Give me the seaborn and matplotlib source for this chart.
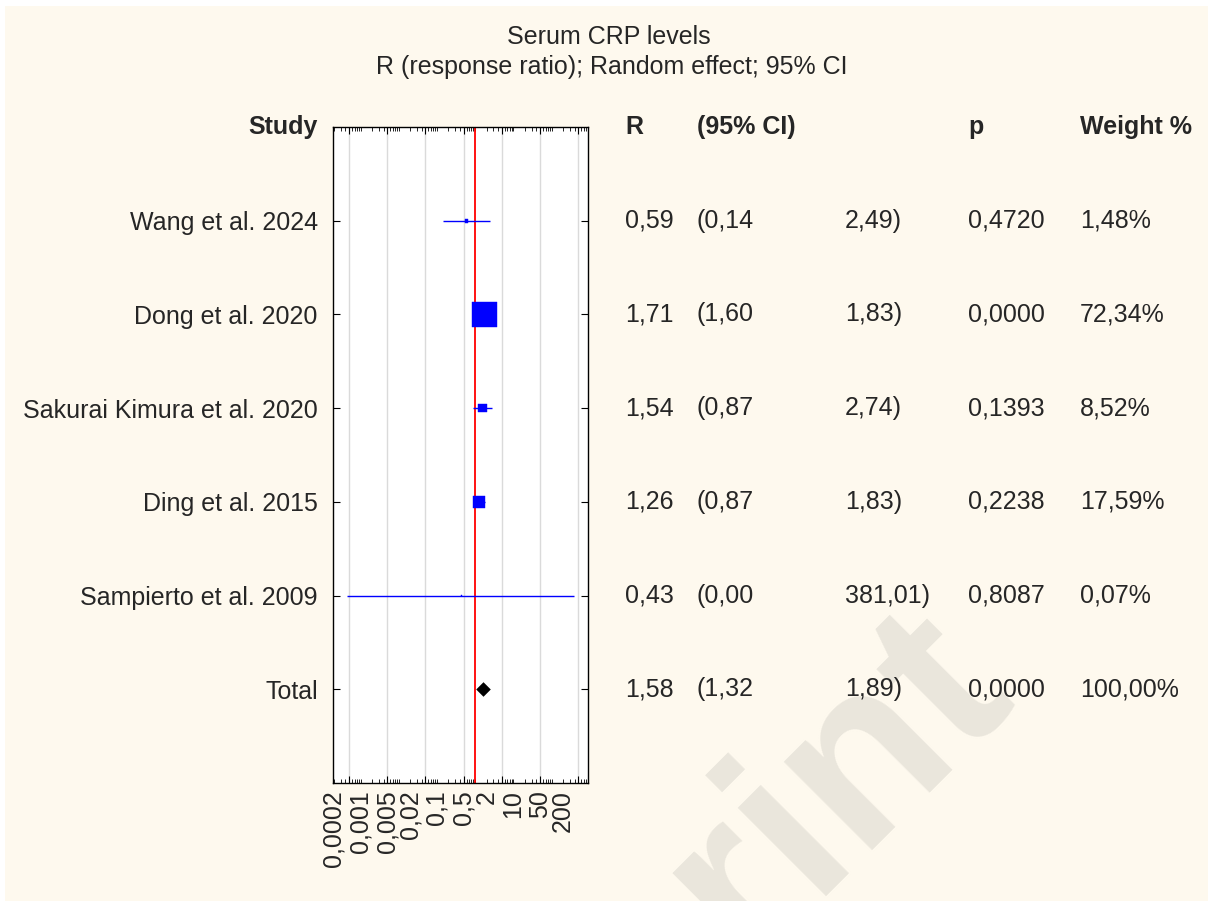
import numpy as np
import pandas as pd
import matplotlib
matplotlib.use("Agg")
import matplotlib.pyplot as plt
from matplotlib.patches import Rectangle
from matplotlib.ticker import LogLocator, NullFormatter, NullLocator
from matplotlib.transforms import blended_transform_factory
import seaborn as sns

# ---- data -------------------------------------------------------------
studies = ["Wang et al. 2024", "Dong et al. 2020", "Sakurai Kimura et al. 2020",
           "Ding et al. 2015", "Sampierto et al. 2009"]
ratio = [0.59, 1.71, 1.54, 1.26, 0.43]
ci_low = [0.14, 1.60, 0.87, 0.87, 0.00045]
ci_high = [2.49, 1.83, 2.74, 1.83, 381.01]
p_values = [0.4720, 0.0000, 0.1393, 0.2238, 0.8087]
weights = [1.48, 72.34, 8.52, 17.59, 0.07]

total_label = "Total"
total_ratio = 1.58
total_low = 1.32
total_high = 1.89
total_p = 0.0000
total_weight = 100.00

axis_tick_values = [0.0002, 0.001, 0.005, 0.02, 0.1, 0.5, 2, 10, 50, 200]
axis_tick_labels = ["0,0002", "0,001", "0,005", "0,02", "0,1", "0,5", "2", "10", "50", "200"]

title_lines = ["Serum CRP levels", "R (response ratio); Random effect; 95% CI"]
headers = ["R", "(95% CI)", "p", "Weight %"]

# ---- style ------------------------------------------------------------
sns.set_theme(style="white")
plt.rcParams["font.family"] = ["Liberation Sans", "DejaVu Sans"]
FS = 18
W, H = 1208, 901


def fx(px):
    return px / W


def fy(py):
    return 1 - py / H


def comma(v, nd=2):
    return f"{v:.{nd}f}".replace(".", ",")


df = pd.DataFrame({"study": studies, "R": ratio, "lo": ci_low, "hi": ci_high,
                   "p": p_values, "w": weights})
df["row"] = np.arange(1, len(df) + 1)
total_row = len(df) + 1

fig = plt.figure(figsize=(W / 100, H / 100), dpi=100)
fig.patch.set_facecolor("white")
fig.add_artist(Rectangle((fx(5), -0.01), 1.0, fy(6) + 0.01, transform=fig.transFigure,
                         facecolor="#FEF9EE", edgecolor="none", zorder=-10))

ax = fig.add_axes([fx(333), fy(783), fx(588 - 333), (783 - 127) / H])
ax.set_facecolor("white")
ax.set_xscale("log")

# reference line at no effect
ax.axvline(1, color="red", lw=1.3, zorder=2)

# confidence intervals and weighted squares
ax.hlines(df["row"], df["lo"], df["hi"], color="blue", lw=1.0, zorder=3)
k = 4.48
sns.scatterplot(data=df, x="R", y="row", size="w",
                sizes=(k * min(weights), k * max(weights)),
                size_norm=(min(weights), max(weights)),
                marker="s", color="blue", edgecolor="blue", linewidth=0.3,
                legend=False, ax=ax, zorder=4)

# pooled estimate
sns.scatterplot(x=[total_ratio], y=[total_row], marker="D", color="black",
                s=55, linewidth=0, ax=ax, zorder=5, legend=False)

ax.set_xlabel("")
ax.set_ylabel("")
ax.set_xlim(0.00019, 900)
ax.set_ylim(total_row + 1, 0)

# log gridlines and minor ticks
ax.xaxis.set_major_locator(LogLocator(base=10, subs=(5.0,), numticks=40))
ax.xaxis.set_minor_locator(LogLocator(base=10, subs=tuple(range(1, 10)), numticks=40))
ax.xaxis.set_major_formatter(NullFormatter())
ax.xaxis.set_minor_formatter(NullFormatter())
ax.grid(True, axis="x", which="major", color="#DADADA", lw=1, zorder=1)
ax.set_axisbelow(True)
ax.tick_params(axis="x", which="major", direction="in", length=5, width=0.8,
               top=True, bottom=True, color="black")
ax.tick_params(axis="x", which="minor", direction="in", length=3, width=0.6,
               top=True, bottom=True, color="black")

for s in ax.spines.values():
    s.set_color("black")
    s.set_linewidth(1.0)

# study labels
ax.set_yticks(list(df["row"]) + [total_row], labels=studies + [total_label])
ax.tick_params(axis="y", direction="in", length=5, width=0.8, left=True, right=True,
               pad=11, labelsize=FS, color="black")

# axis value labels
sec = ax.secondary_xaxis("bottom")
sec.set_xticks(axis_tick_values, labels=axis_tick_labels)
sec.tick_params(axis="x", length=0, pad=5, labelsize=FS, rotation=90)
sec.xaxis.set_minor_locator(NullLocator())
sec.spines["bottom"].set_visible(False)

# title
fig.text(fx(609), fy(37), title_lines[0], ha="center", va="center", fontsize=FS)
fig.text(fx(612), fy(67), title_lines[1], ha="center", va="center", fontsize=FS)

# table of results
tr = blended_transform_factory(fig.transFigure, ax.transData)
ax.text(fx(318), 0, "Study", transform=tr, ha="right", va="center", fontsize=FS,
        fontweight="bold", clip_on=False)

col_x = [fx(625), fx(697), fx(968), fx(1080)]
for x, h in zip(col_x, headers):
    ax.text(x, 0, h, transform=tr, ha="left", va="center", fontsize=FS,
            fontweight="bold", clip_on=False)

rows = [(r.row, r.R, r.lo, r.hi, r.p, r.w) for r in df.itertuples()]
rows.append((total_row, total_ratio, total_low, total_high, total_p, total_weight))
for row, rv, lo, hi, pv, wv in rows:
    ax.text(fx(625), row, comma(rv), transform=tr, ha="left", va="center", fontsize=FS)
    ax.text(fx(697), row, "(" + comma(lo), transform=tr, ha="left", va="center", fontsize=FS)
    ax.text(fx(845), row, comma(hi) + ")", transform=tr, ha="left", va="center", fontsize=FS)
    ax.text(fx(968), row, comma(pv, 4), transform=tr, ha="left", va="center", fontsize=FS)
    ax.text(fx(1080), row, comma(wv) + "%", transform=tr, ha="left", va="center", fontsize=FS)

# watermark
fig.text(fx(1015), fy(692), "Preprint", rotation=45, rotation_mode="anchor",
         ha="right", va="baseline", fontsize=170, fontweight="bold",
         color="#EAE6DC", zorder=-5)

fig.savefig("out.png", dpi=100, facecolor=fig.get_facecolor())
